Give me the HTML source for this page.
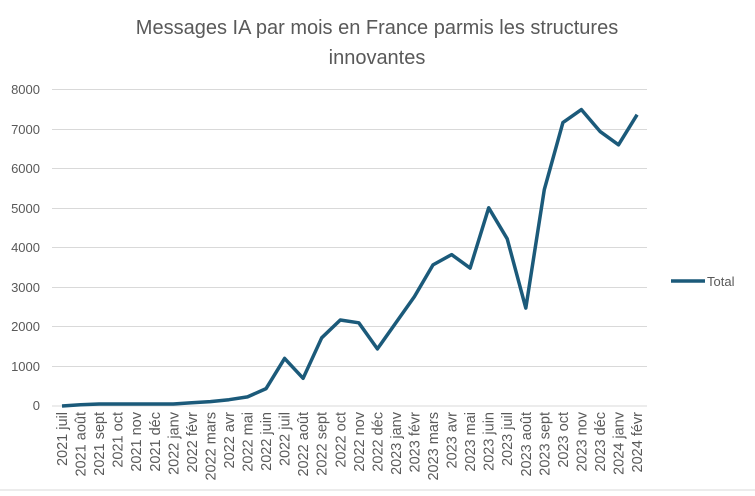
<!DOCTYPE html>
<html><head><meta charset="utf-8"><style>
body{margin:0;background:#fff;}
svg text{font-family:"Liberation Sans",sans-serif;fill:#595959;}
</style></head><body>
<svg width="755" height="491" xmlns="http://www.w3.org/2000/svg">
<rect width="755" height="491" fill="#fff"/>
<text x="377" y="34" font-size="20" text-anchor="middle">Messages IA par mois en France parmis les structures</text>
<text x="377" y="64" font-size="20" text-anchor="middle">innovantes</text>
<g stroke="#d9d9d9" stroke-width="1">
<line x1="52" x2="647" y1="89.5" y2="89.5"/><line x1="52" x2="647" y1="129.5" y2="129.5"/>
<line x1="52" x2="647" y1="168.5" y2="168.5"/><line x1="52" x2="647" y1="208.5" y2="208.5"/>
<line x1="52" x2="647" y1="247.5" y2="247.5"/><line x1="52" x2="647" y1="287.5" y2="287.5"/>
<line x1="52" x2="647" y1="326.5" y2="326.5"/><line x1="52" x2="647" y1="366.5" y2="366.5"/>
<line x1="52" x2="647" y1="406" y2="406"/>
<line x1="0" x2="755" y1="490" y2="490"/>
</g>
<g font-size="13" text-anchor="end">
<text x="40" y="94">8000</text><text x="40" y="134">7000</text><text x="40" y="173">6000</text>
<text x="40" y="213">5000</text><text x="40" y="252">4000</text><text x="40" y="292">3000</text>
<text x="40" y="331">2000</text><text x="40" y="371">1000</text><text x="40" y="410">0</text>
</g>
<g id="lbl" font-size="14.5" text-anchor="end"></g>
<polyline id="ln" fill="none" stroke="#1b5a7a" stroke-width="3.5" stroke-linejoin="round" points=""/>
<line x1="671" x2="705" y1="281" y2="281" stroke="#1b5a7a" stroke-width="3.5"/>
<text x="707" y="286" font-size="13">Total</text>
</svg>
<script>
var d=[0,30,50,50,50,50,50,80,110,160,230,440,1200,700,1720,2170,2100,1440,2100,2760,3560,3820,3480,5000,4220,2470,5460,7150,7480,6930,6590,7350];
var l=["2021 juil","2021 août","2021 sept","2021 oct","2021 nov","2021 déc","2022 janv","2022 févr","2022 mars","2022 avr","2022 mai","2022 juin","2022 juil","2022 août","2022 sept","2022 oct","2022 nov","2022 déc","2023 janv","2023 févr","2023 mars","2023 avr","2023 mai","2023 juin","2023 juil","2023 août","2023 sept","2023 oct","2023 nov","2023 déc","2024 janv","2024 févr"];
var p=[],g=document.getElementById('lbl'),h='';
for(var i=0;i<d.length;i++){var x=62+i*18.55,y=406-d[i]*0.03963;p.push(x.toFixed(1)+','+y.toFixed(1));
h+='<text transform="translate('+(x+5).toFixed(1)+',412) rotate(-90)">'+l[i]+'</text>';}
g.innerHTML=h;document.getElementById('ln').setAttribute('points',p.join(' '));
</script>
</body></html>
